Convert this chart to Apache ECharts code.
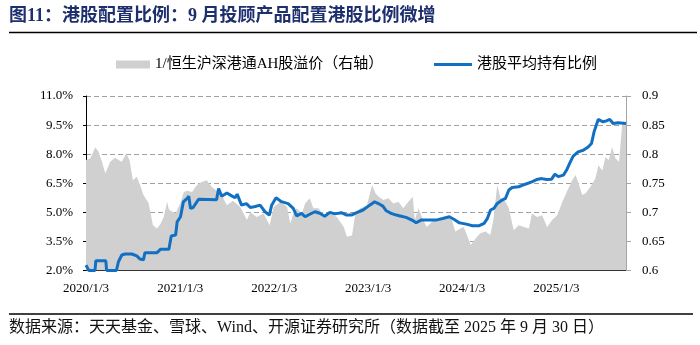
<!DOCTYPE html>
<html>
<head>
<meta charset="utf-8">
<script src="https://cdn.jsdelivr.net/npm/echarts@6/dist/echarts.min.js"></script>
<style>
  html, body { margin: 0; padding: 0; background: #fff; }
  #chart { width: 700px; height: 345px; }
</style>
</head>
<body>
<div id="chart"></div>
<script>
// Series names
const premiumName = '1/恒生沪深港通AH股溢价（右轴）';
const ratioName = '港股平均持有比例';

// X axis ticks
const tickDates = ['2020-01-03', '2021-01-03', '2022-01-03', '2023-01-03', '2024-01-03', '2025-01-03'];
const tickLabels = ['2020/1/3', '2021/1/3', '2022/1/3', '2023/1/3', '2024/1/3', '2025/1/3'];

// Left axis ticks (%)
const leftMin = 2.0, leftMax = 11.0, leftStep = 1.5;
// Right axis ticks
const rightMin = 0.6, rightMax = 0.9, rightStep = 0.05;

// 1 / Hang Seng Stock Connect AH premium (right axis)
const premiumDates = [
  '2020-01-03','2020-01-20','2020-02-08','2020-02-21','2020-03-05','2020-03-18','2020-03-24','2020-04-06','2020-04-25','2020-05-08',
  '2020-05-21','2020-06-07','2020-06-20','2020-07-03','2020-07-18','2020-07-31','2020-08-13','2020-09-02','2020-09-19','2020-10-05',
  '2020-10-18','2020-10-31','2020-11-13','2020-11-20','2020-12-03','2020-12-16',
  '2021-01-04','2021-01-17','2021-01-30','2021-02-18','2021-03-09','2021-03-27','2021-04-16','2021-05-05','2021-05-24','2021-06-13',
  '2021-07-03','2021-07-27','2021-08-24','2021-09-19','2021-10-02','2021-10-27','2021-11-23','2021-12-16',
  '2022-01-01','2022-01-27','2022-02-22','2022-03-06','2022-03-18','2022-03-31','2022-04-20','2022-05-03','2022-05-21','2022-06-04',
  '2022-06-24','2022-07-13','2022-08-08','2022-09-03','2022-09-30','2022-10-12','2022-11-01','2022-11-14','2022-12-03','2022-12-16','2022-12-29',
  '2023-01-18','2023-01-31','2023-02-13','2023-03-03','2023-03-22','2023-04-11','2023-04-30','2023-05-19','2023-06-08','2023-06-25',
  '2023-07-03','2023-07-17','2023-07-30','2023-08-18','2023-09-14','2023-10-09','2023-11-05','2023-11-24','2023-12-07','2023-12-27',
  '2024-01-09','2024-01-29','2024-02-05','2024-02-24','2024-03-13','2024-04-02','2024-04-21','2024-05-03','2024-05-18','2024-05-31',
  '2024-06-19','2024-07-02','2024-07-21','2024-08-09','2024-08-30','2024-09-18','2024-09-30','2024-10-20','2024-11-08','2024-11-28','2024-12-17',
  '2025-01-06','2025-01-26','2025-02-15','2025-03-05','2025-03-18','2025-03-30','2025-04-13','2025-04-26','2025-05-15','2025-06-03',
  '2025-06-15','2025-06-30','2025-07-12','2025-07-25','2025-08-07','2025-08-20','2025-09-03','2025-09-15','2025-09-21','2025-09-30'
];
const premiumValues = [
  0.790,0.793,0.812,0.804,0.787,0.767,0.765,0.787,0.794,0.790,
  0.787,0.801,0.790,0.755,0.761,0.747,0.730,0.716,0.678,0.672,
  0.680,0.692,0.718,0.705,0.701,0.699,
  0.716,0.735,0.737,0.735,0.747,0.752,0.755,0.744,0.737,0.730,
  0.712,0.720,0.709,0.687,0.700,0.692,0.698,0.678,
  0.709,0.718,0.709,0.681,0.698,0.707,0.698,0.715,0.724,0.707,
  0.707,0.695,0.698,0.692,0.675,0.658,0.660,0.698,0.707,0.709,0.712,
  0.747,0.733,0.727,0.721,0.724,0.715,0.718,0.707,0.718,0.727,
  0.687,0.707,0.692,0.675,0.687,0.687,0.692,0.687,0.667,0.672,
  0.675,0.652,0.644,0.655,0.664,0.667,0.661,0.687,0.747,0.724,
  0.718,0.707,0.669,0.678,0.675,0.672,0.698,0.692,0.695,0.675,0.687,
  0.695,0.718,0.738,0.755,0.764,0.750,0.730,0.733,0.744,0.758,
  0.781,0.772,0.795,0.790,0.812,0.793,0.787,0.850,0.857,0.852
];

// Average Hong Kong stock holding ratio of advisory products (left axis, %)
const ratioDates = [
  '2020-01-03','2020-01-14','2020-02-07','2020-02-10','2020-03-20','2020-03-23','2020-04-30','2020-05-08','2020-05-21','2020-06-03',
  '2020-06-29','2020-07-18','2020-07-31','2020-08-13','2020-08-19','2020-10-05','2020-10-18','2020-11-20','2020-11-29','2020-12-16','2020-12-22',
  '2021-01-04','2021-01-15','2021-01-30','2021-02-05','2021-02-12','2021-02-22','2021-03-15','2021-05-24','2021-06-01','2021-06-13',
  '2021-07-03','2021-07-22','2021-08-04','2021-08-12','2021-08-29','2021-09-17','2021-10-02','2021-10-21','2021-11-09','2021-11-28',
  '2021-12-15','2021-12-24',
  '2022-01-10','2022-01-31','2022-02-26','2022-03-18','2022-03-31','2022-04-19','2022-05-03','2022-05-21','2022-06-10','2022-06-29',
  '2022-07-18','2022-08-07','2022-08-26','2022-09-21','2022-10-11','2022-10-30','2022-11-19','2022-12-14',
  '2023-01-09','2023-01-28','2023-02-16','2023-03-01','2023-03-14','2023-04-02','2023-04-22','2023-05-11','2023-05-30','2023-06-22',
  '2023-07-08','2023-07-27','2023-08-28','2023-09-23','2023-10-19','2023-11-14','2023-12-03','2023-12-22',
  '2024-01-04','2024-01-23','2024-02-12','2024-03-09','2024-03-28','2024-04-10','2024-04-22','2024-05-05','2024-05-18','2024-06-06',
  '2024-06-19','2024-07-02','2024-07-15','2024-08-09','2024-09-04','2024-09-29','2024-10-18','2024-11-07','2024-11-26','2024-12-15','2024-12-28',
  '2025-01-10','2025-01-30','2025-02-11','2025-02-24','2025-03-09','2025-03-28','2025-04-17','2025-05-06','2025-05-19','2025-05-29',
  '2025-06-14','2025-07-03','2025-07-16','2025-07-29','2025-08-11','2025-08-30','2025-09-30'
];
const ratioValues = [
  2.28,2.00,2.00,2.50,2.50,2.00,2.00,2.45,2.80,2.85,
  2.85,2.75,2.59,2.55,2.92,2.92,3.09,3.09,3.78,3.83,4.51,
  4.77,5.54,5.72,5.83,5.20,5.25,5.67,5.65,6.23,5.83,
  6.00,5.85,5.75,5.94,5.37,5.45,5.25,5.30,5.37,5.03,
  4.86,5.37,
  5.75,5.55,5.45,5.20,4.82,4.95,4.77,4.90,5.03,4.95,
  4.80,5.00,4.92,4.98,4.86,4.86,4.98,5.12,
  5.37,5.54,5.42,5.32,5.08,4.95,4.86,4.80,4.74,4.60,
  4.46,4.60,4.60,4.60,4.68,4.77,4.63,4.46,
  4.43,4.38,4.31,4.31,4.43,4.69,5.12,5.20,5.46,5.63,
  5.72,6.15,6.28,6.32,6.45,6.57,6.69,6.74,6.69,6.71,6.97,
  6.84,6.92,7.17,7.55,7.90,8.12,8.20,8.37,8.55,9.15,
  9.79,9.67,9.72,9.79,9.58,9.62,9.58
];

const xStart = '2020-01-03', xEnd = '2025-09-30';

const serif = '"Liberation Serif", "Noto Sans CJK SC", serif';

function toTime(s) {
  const p = s.split('-').map(Number);
  return Date.UTC(p[0], p[1] - 1, p[2]);
}
function zip(dates, values) {
  return dates.map((d, i) => [toTime(d), values[i]]);
}

const tickTimes = tickDates.map(toTime);
const tickLabelOf = new Map(tickTimes.map((t, i) => [t, tickLabels[i]]));

const chart = echarts.init(document.getElementById('chart'), null, { renderer: 'canvas' });

chart.setOption({
  backgroundColor: '#ffffff',
  animation: false,
  textStyle: { fontFamily: serif },
  graphic: [
    {
      type: 'text', left: 9, top: 7,
      style: {
        text: '图11：港股配置比例：9 月投顾产品配置港股比例微增',
        font: 'bold 18px ' + serif, fill: '#1e2f6e'
      }
    },
    { type: 'line', shape: { x1: 9, y1: 32.5, x2: 697, y2: 32.5 }, style: { stroke: '#000', lineWidth: 1.5 } },
    { type: 'line', shape: { x1: 9, y1: 314, x2: 693, y2: 314 }, style: { stroke: '#000', lineWidth: 1.5 } },
    {
      type: 'text', left: 9, top: 320,
      style: {
        text: '数据来源：天天基金、雪球、Wind、开源证券研究所（数据截至 2025 年 9 月 30 日）',
        font: '16px ' + serif, fill: '#111'
      }
    }
  ],
  legend: [
    {
      data: [{ name: premiumName, icon: 'rect' }],
      left: 111, top: 52, itemWidth: 34, itemHeight: 8, selectedMode: false,
      textStyle: { fontSize: 15, fontFamily: serif, color: '#000' }
    },
    {
      data: [{ name: ratioName, icon: 'rect' }],
      left: 429, top: 52, itemWidth: 38, itemHeight: 3, selectedMode: false,
      textStyle: { fontSize: 15, fontFamily: serif, color: '#000' }
    }
  ],
  grid: { left: 86, right: 74, top: 96, bottom: 74.5, containLabel: false },
  xAxis: {
    type: 'value',
    min: toTime(xStart),
    max: toTime(xEnd),
    splitLine: { show: false },
    axisLine: { show: true, lineStyle: { color: '#000', width: 1 } },
    axisTick: { show: true, inside: true, length: 5, lineStyle: { color: '#000' }, customValues: tickTimes },
    axisLabel: {
      customValues: tickTimes,
      formatter: v => tickLabelOf.get(v) || '',
      color: '#000', fontSize: 13, fontFamily: serif, margin: 12
    }
  },
  yAxis: [
    {
      type: 'value', position: 'left',
      min: leftMin, max: leftMax, interval: leftStep,
      axisLine: { show: true, lineStyle: { color: '#000', width: 1 } },
      axisTick: { show: true, length: 3, lineStyle: { color: '#000' } },
      axisLabel: { formatter: v => v.toFixed(1) + '%', color: '#000', fontSize: 13, fontFamily: serif, margin: 13 },
      splitLine: { show: true, lineStyle: { color: '#a0a0a0', type: [5, 3], width: 1 } }
    },
    {
      type: 'value', position: 'right',
      min: rightMin, max: rightMax, interval: rightStep,
      axisLine: { show: true, lineStyle: { color: '#a6a6a6', width: 1 } },
      axisTick: { show: true, length: 5, lineStyle: { color: '#a6a6a6' } },
      axisLabel: { formatter: v => String(Math.round(v * 100) / 100), color: '#000', fontSize: 13, fontFamily: serif, margin: 16 },
      splitLine: { show: false }
    }
  ],
  series: [
    {
      name: premiumName, type: 'line', yAxisIndex: 1,
      data: zip(premiumDates, premiumValues),
      symbol: 'none', silent: true,
      itemStyle: { color: '#d0d0d0' },
      lineStyle: { width: 0, color: '#d0d0d0' },
      areaStyle: { color: '#d0d0d0', opacity: 1, origin: 'start' },
      z: 2
    },
    {
      name: ratioName, type: 'line', yAxisIndex: 0,
      data: zip(ratioDates, ratioValues),
      symbol: 'none', silent: true,
      itemStyle: { color: '#1170c4' },
      lineStyle: { width: 3, color: '#1170c4' },
      z: 3
    }
  ]
});
</script>
</body>
</html>
